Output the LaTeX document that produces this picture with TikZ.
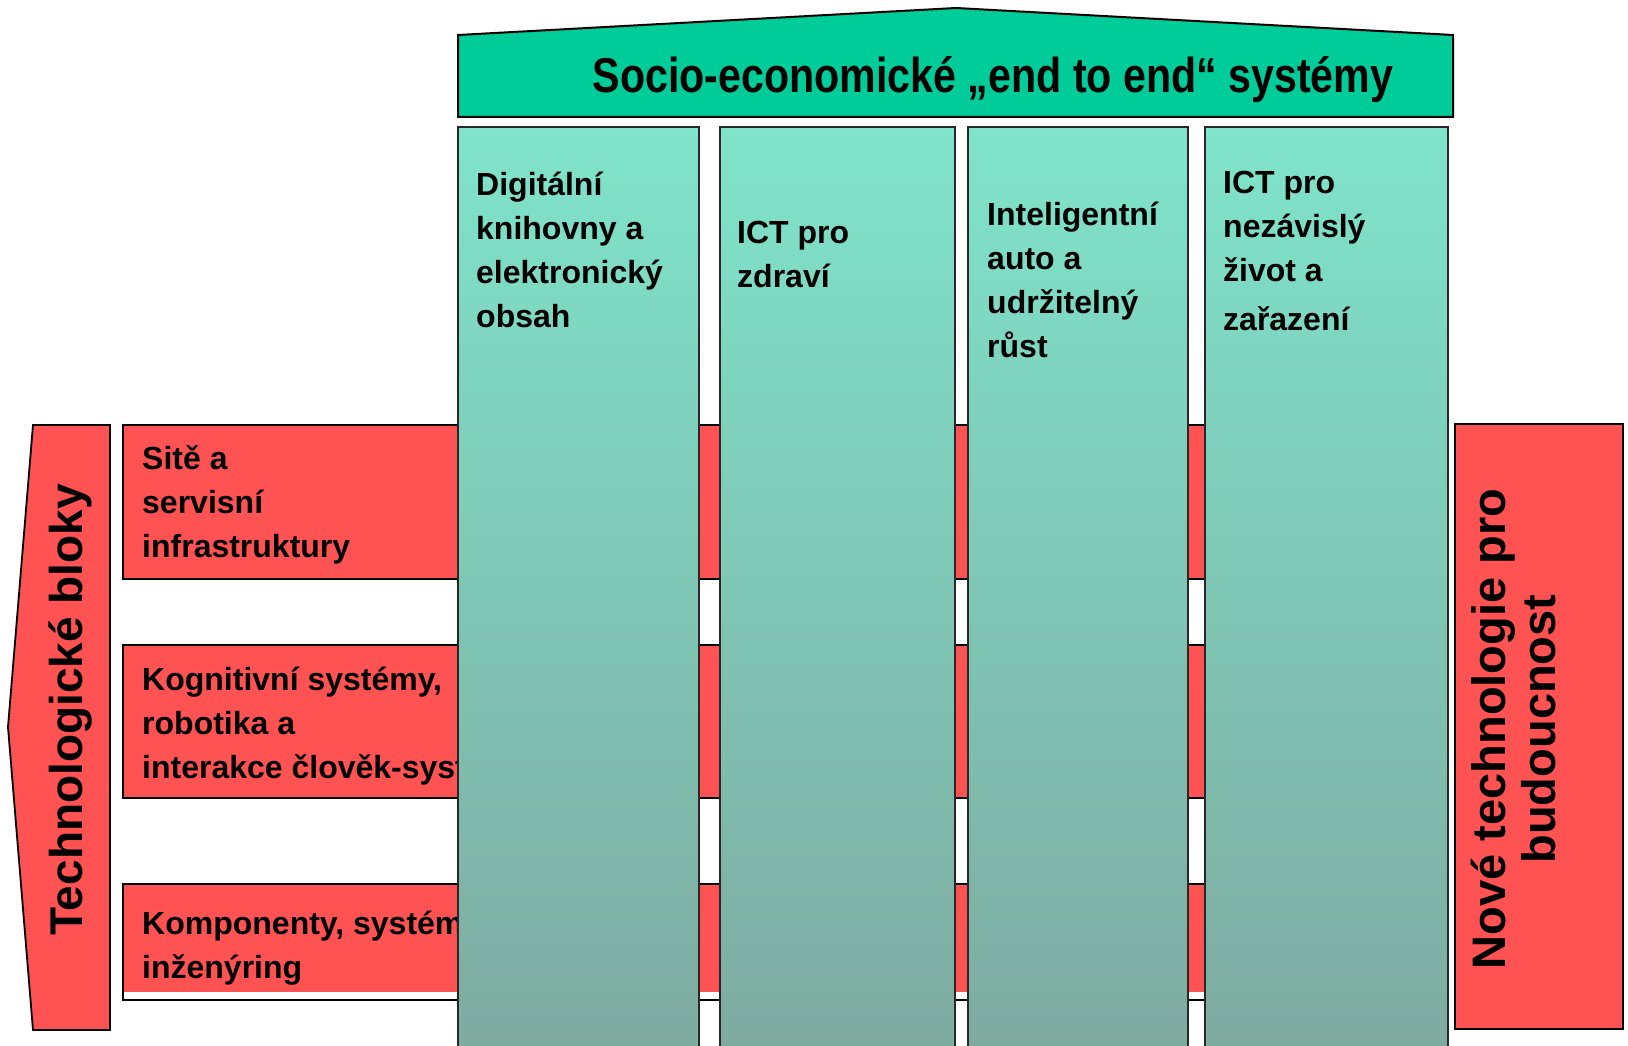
\documentclass[tikz,border=0pt]{standalone}
\usepackage{fontspec}
\setmainfont{Liberation Sans}
\usepackage{graphicx}
\definecolor{barred}{RGB}{255,82,82}
\definecolor{housegreen}{RGB}{0,204,153}
\definecolor{coltop}{RGB}{127,228,202}
\definecolor{colbot}{RGB}{127,170,160}
\definecolor{colline}{RGB}{40,40,40}
\begin{document}
\begin{tikzpicture}[x=1pt,y=-1pt,
  redshape/.style={fill=barred, draw=black, line width=1.8pt},
  barbox/.style={fill=barred, draw=black, line width=1.6pt},
  colbox/.style={top color=coltop, bottom color=colbot, draw=colline, line width=1.5pt},
  housebox/.style={fill=housegreen, draw=black, line width=2pt},
  txt/.style={font=\bfseries\fontsize{32}{44}\selectfont, align=left, inner sep=0pt, anchor=base west},
  bigtxt/.style={font=\bfseries\fontsize{47}{50}\selectfont, inner sep=0pt, anchor=base, align=center},
  ]
\useasboundingbox (0,0) rectangle (1628,1046);
\fill[white] (0,0) rectangle (1628,1046);

% left arrow
\draw[redshape] (33,425) -- (110,425) -- (110,1030) -- (33,1030) -- (8,727) -- cycle;
\node[bigtxt, rotate=90, font=\bfseries\fontsize{46}{50}\selectfont] (tb) at (82,710) {Technologické bloky};

% right box
\draw[redshape] (1455,424) rectangle (1623,1029);
\node[bigtxt, rotate=90] (nt) at (1555,729) {Nové technologie pro\\budoucnost};

% horizontal bars
\draw[barbox] (123,425) rectangle (1300,579);
\draw[barbox] (123,645) rectangle (1300,798);
\fill[white] (123,884) rectangle (1300,1000);
\fill[barred] (123,884) rectangle (1300,992);
\draw[black, line width=1.6pt] (123,884) rectangle (1300,1000);

\begin{scope}
\clip (0,0) rectangle (458,1046);
\node[txt] (b1) at (142,557) {Sitě a\\servisní\\infrastruktury};
\node[txt] (b2) at (142,778) {Kognitivní systémy,\\robotika a\\interakce člověk-systém};
\node[txt] (b3) at (142,978) {Komponenty, systémy,\\inženýring};
\end{scope}

% columns
\draw[colbox] (458,127) rectangle (699,1052);
\draw[colbox] (720,127) rectangle (955,1052);
\draw[colbox] (968,127) rectangle (1188,1052);
\draw[colbox] (1205,127) rectangle (1448,1052);

\node[txt] (c1) at (476,327) {Digitální\\knihovny a\\elektronický\\obsah};
\node[txt] (c2) at (737,287) {ICT pro\\zdraví};
\node[txt] (c3) at (987,357) {Inteligentní\\auto a\\udržitelný\\růst};
\node[txt] (c4) at (1223,330) {ICT pro\\nezávislý\\život a\\[5pt]zařazení};

% roof
\draw[housebox] (458,117) -- (458,35) -- (956,8) -- (1453,35) -- (1453,117) -- cycle;
\node[font=\bfseries\fontsize{49}{50}\selectfont, inner sep=0pt, anchor=base] (title) at (993,93) {\scalebox{0.84}[1]{Socio-economické „end to end“ systémy}};
\end{tikzpicture}
\end{document}
